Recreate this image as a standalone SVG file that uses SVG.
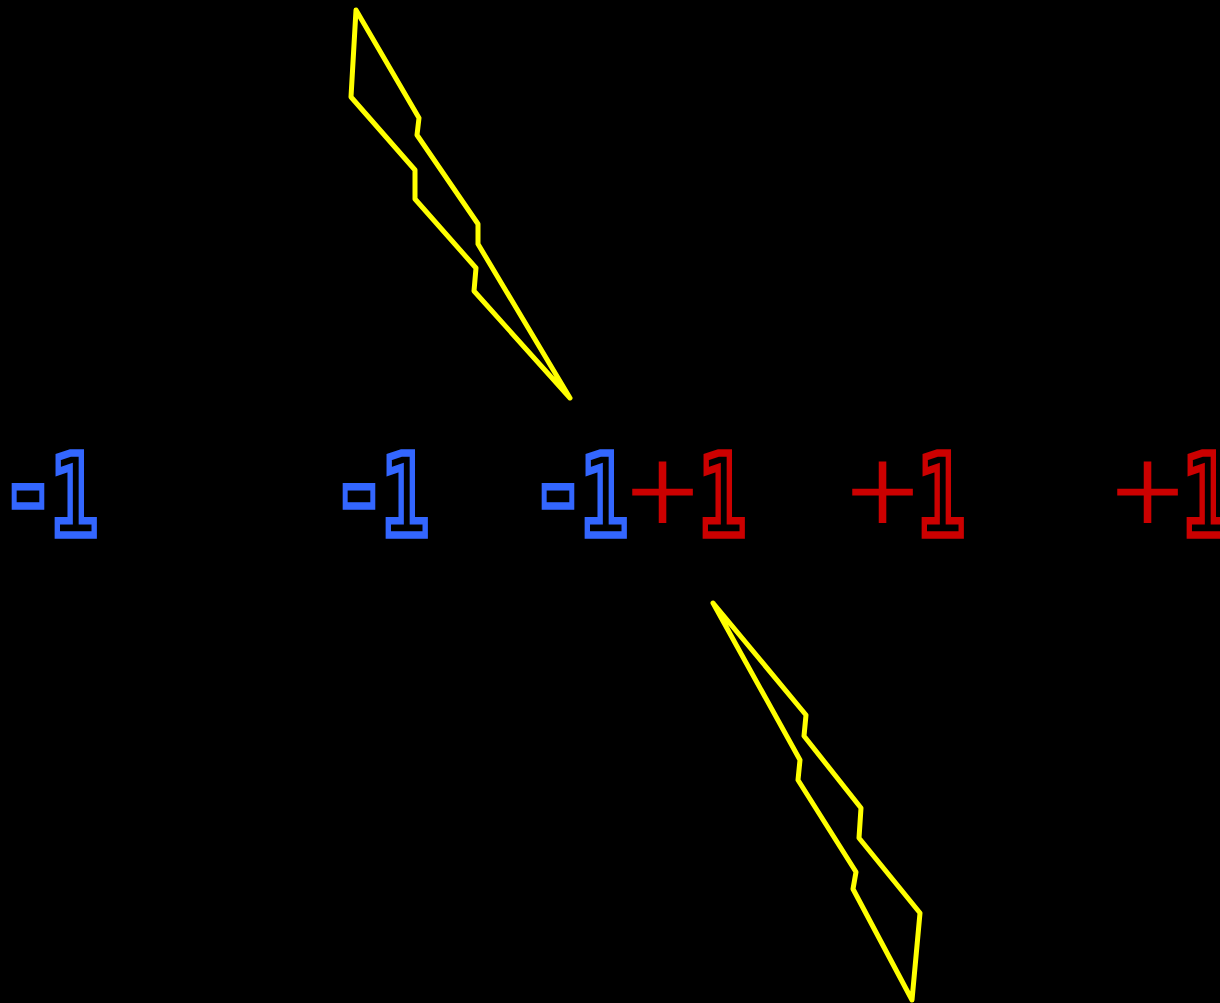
<svg xmlns="http://www.w3.org/2000/svg" width="1220" height="1003" viewBox="0 0 1220 1003">
<style>
.bolt{fill:none;stroke:#ffff00;stroke-width:5;stroke-linejoin:round;stroke-linecap:round}
.lbl{font-family:"DejaVu Sans Mono","DejaVu Sans",monospace;font-weight:bold;font-size:112px}
.neg{fill:none;stroke:#3366ff;stroke-width:7.5;stroke-linejoin:miter}
.pos{fill:none;stroke:#cc0000;stroke-width:7.5;stroke-linejoin:miter}
.minus{font-size:136px}
.plus{fill:#cc0000;stroke:#cc0000;stroke-width:3;font-family:"DejaVu Sans",sans-serif;font-weight:200;font-size:92px}
</style>
<rect width="1220" height="1003" fill="#000"/>
<g id="connectors">
<polygon id="bolt-top" class="bolt" points="356,10 419,118 417,135 478,224 478,244 570,398 474,291 476,268 415,199 415,170 351,97"/>
<polygon id="bolt-bottom" class="bolt" points="713,603 806,715 804,736 861,808 859,838 920,913 912,1000 853,889 856,872 798,780 800,760"/>
</g>
<g id="neg1"><text class="lbl neg" y="535"><tspan class="minus" x="1" textLength="54" lengthAdjust="spacingAndGlyphs">-</tspan><tspan x="50" textLength="48" lengthAdjust="spacingAndGlyphs">1</tspan></text></g>
<g id="neg2"><text class="lbl neg" y="535"><tspan class="minus" x="332" textLength="54" lengthAdjust="spacingAndGlyphs">-</tspan><tspan x="381" textLength="48" lengthAdjust="spacingAndGlyphs">1</tspan></text></g>
<g id="neg3"><text class="lbl neg" y="535"><tspan class="minus" x="531" textLength="54" lengthAdjust="spacingAndGlyphs">-</tspan><tspan x="580" textLength="48" lengthAdjust="spacingAndGlyphs">1</tspan></text></g>
<g id="pos1"><text class="lbl pos" y="535"><tspan class="plus" x="624" y="521">+</tspan><tspan x="698" y="535" textLength="48" lengthAdjust="spacingAndGlyphs">1</tspan></text></g>
<g id="pos2"><text class="lbl pos" y="535"><tspan class="plus" x="844" y="521">+</tspan><tspan x="917" y="535" textLength="48" lengthAdjust="spacingAndGlyphs">1</tspan></text></g>
<g id="pos3"><text class="lbl pos" y="535"><tspan class="plus" x="1109" y="521">+</tspan><tspan x="1182" y="535" textLength="48" lengthAdjust="spacingAndGlyphs">1</tspan></text></g>
</svg>
